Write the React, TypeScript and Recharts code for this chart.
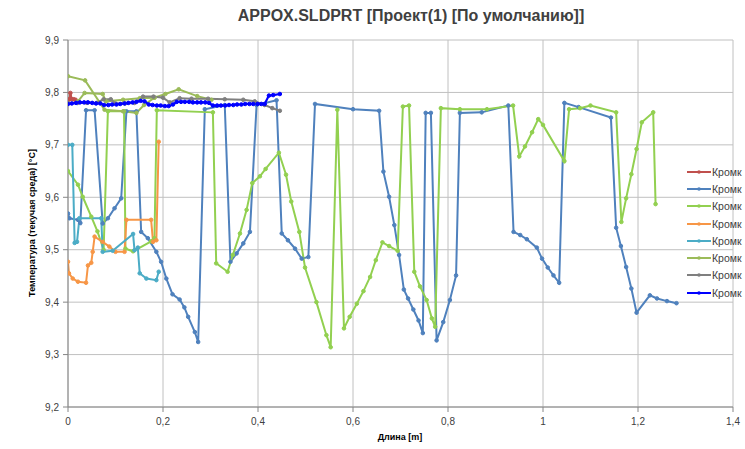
import React from 'react';
import { LineChart, Line, XAxis, YAxis, CartesianGrid } from 'recharts';

type P = [number, number];

const title = 'APPOX.SLDPRT [Проект(1) [По умолчанию]]';
const xAxisTitle = 'Длина [m]';
const yAxisTitle = 'Температура (текучая среда) [°C]';
const seriesNames = ['Кромк', 'Кромк', 'Кромк', 'Кромк', 'Кромк', 'Кромк', 'Кромк', 'Кромк'];
const seriesColors = ['#C0504D', '#4F81BD', '#92D050', '#F79646', '#4BACC6', '#9BBB59', '#7F7F7F', '#0000FF'];
const xTicks = [0, 0.2, 0.4, 0.6, 0.8, 1, 1.2, 1.4];
const yTicks = [9.2, 9.3, 9.4, 9.5, 9.6, 9.7, 9.8, 9.9];

const edge1: P[] = [[0, 9.786], [0.003, 9.787], [0.005, 9.799], [0.008, 9.787], [0.012, 9.787], [0.016, 9.786]];

const edge2: P[] = [
  [0, 9.569], [0.003, 9.56], [0.021, 9.557], [0.026, 9.551], [0.038, 9.766], [0.056, 9.766], [0.073, 9.55],
  [0.084, 9.56], [0.098, 9.579], [0.112, 9.598], [0.123, 9.764], [0.144, 9.764], [0.154, 9.534], [0.168, 9.522],
  [0.186, 9.496], [0.196, 9.477], [0.207, 9.445], [0.22, 9.415], [0.235, 9.405], [0.245, 9.39], [0.253, 9.372],
  [0.267, 9.343], [0.274, 9.324], [0.288, 9.768], [0.33, 9.776], [0.342, 9.477], [0.355, 9.493], [0.369, 9.512],
  [0.383, 9.534], [0.397, 9.776], [0.439, 9.785], [0.45, 9.531], [0.463, 9.518], [0.478, 9.502], [0.492, 9.483],
  [0.506, 9.486], [0.52, 9.778], [0.6, 9.768], [0.655, 9.765], [0.664, 9.649], [0.676, 9.601], [0.687, 9.547],
  [0.697, 9.49], [0.707, 9.424], [0.716, 9.407], [0.727, 9.386], [0.738, 9.365], [0.747, 9.341], [0.753, 9.761],
  [0.764, 9.761], [0.776, 9.327], [0.79, 9.362], [0.804, 9.404], [0.817, 9.451], [0.825, 9.761], [0.871, 9.762],
  [0.927, 9.775], [0.938, 9.534], [0.952, 9.528], [0.966, 9.52], [0.987, 9.504], [0.998, 9.483], [1.01, 9.466],
  [1.022, 9.451], [1.034, 9.437], [1.045, 9.78], [1.075, 9.772], [1.143, 9.752], [1.154, 9.542], [1.164, 9.507],
  [1.175, 9.467], [1.186, 9.426], [1.197, 9.38], [1.225, 9.413], [1.24, 9.407], [1.261, 9.402], [1.281, 9.398],
];

const edge3: P[] = [
  [0, 9.65], [0.021, 9.624], [0.031, 9.601], [0.049, 9.563], [0.062, 9.535], [0.075, 9.5], [0.084, 9.764],
  [0.118, 9.764], [0.121, 9.502], [0.137, 9.497], [0.175, 9.516], [0.182, 9.522], [0.187, 9.766], [0.305, 9.762],
  [0.312, 9.474], [0.336, 9.458], [0.347, 9.49], [0.362, 9.531], [0.376, 9.576], [0.388, 9.627], [0.404, 9.64],
  [0.416, 9.654], [0.444, 9.685], [0.459, 9.643], [0.47, 9.592], [0.487, 9.534], [0.499, 9.466], [0.523, 9.4],
  [0.544, 9.337], [0.553, 9.314], [0.567, 9.767], [0.581, 9.35], [0.593, 9.372], [0.608, 9.397], [0.622, 9.421],
  [0.636, 9.448], [0.648, 9.48], [0.662, 9.514], [0.676, 9.507], [0.694, 9.498], [0.705, 9.773], [0.718, 9.775],
  [0.729, 9.458], [0.741, 9.43], [0.755, 9.404], [0.766, 9.369], [0.773, 9.353], [0.785, 9.77], [0.825, 9.768],
  [0.882, 9.768], [0.937, 9.775], [0.95, 9.678], [0.962, 9.697], [0.977, 9.724], [0.99, 9.749], [1.0, 9.738],
  [1.045, 9.669], [1.055, 9.768], [1.078, 9.77], [1.1, 9.775], [1.154, 9.762], [1.165, 9.553], [1.175, 9.598],
  [1.186, 9.644], [1.197, 9.692], [1.208, 9.743], [1.232, 9.762], [1.237, 9.587],
];

const edge4: P[] = [
  [0, 9.477], [0.002, 9.455], [0.01, 9.445], [0.021, 9.439], [0.038, 9.437], [0.042, 9.47], [0.049, 9.475],
  [0.052, 9.496], [0.056, 9.525], [0.073, 9.515], [0.087, 9.506], [0.1, 9.496], [0.119, 9.496], [0.123, 9.557],
  [0.175, 9.557], [0.179, 9.515], [0.186, 9.518], [0.191, 9.706],
];

const edge5: P[] = [
  [0, 9.7], [0.009, 9.7], [0.014, 9.513], [0.019, 9.515], [0.024, 9.56], [0.07, 9.56], [0.073, 9.496],
  [0.094, 9.498], [0.137, 9.53], [0.14, 9.499], [0.147, 9.504], [0.151, 9.455], [0.165, 9.445], [0.186, 9.442],
  [0.191, 9.458],
];

const edge6a: P[] = [
  [0, 9.831], [0.036, 9.823], [0.077, 9.767], [0.116, 9.764], [0.144, 9.761], [0.16, 9.776], [0.182, 9.79],
  [0.205, 9.797], [0.233, 9.806], [0.272, 9.793], [0.302, 9.786],
];
const edge6b: P[] = [
  [0.021, 9.783], [0.035, 9.799], [0.073, 9.797], [0.08, 9.783], [0.116, 9.786], [0.151, 9.789], [0.182, 9.79],
];

const edge7: P[] = [
  [0, 9.78], [0.02, 9.78], [0.04, 9.78], [0.06, 9.78], [0.075, 9.787], [0.09, 9.787], [0.1, 9.779], [0.12, 9.779],
  [0.14, 9.78], [0.158, 9.792], [0.18, 9.792], [0.2, 9.79], [0.214, 9.781], [0.235, 9.789], [0.26, 9.788],
  [0.295, 9.788], [0.33, 9.787], [0.369, 9.786], [0.393, 9.783], [0.414, 9.776], [0.43, 9.77], [0.446, 9.765],
];

const edge8: P[] = [
  [0, 9.778], [0.008, 9.779], [0.017, 9.78], [0.025, 9.781], [0.034, 9.781], [0.042, 9.781], [0.051, 9.78],
  [0.059, 9.779], [0.068, 9.779], [0.076, 9.776], [0.085, 9.776], [0.093, 9.777], [0.102, 9.777], [0.11, 9.778],
  [0.119, 9.779], [0.127, 9.78], [0.136, 9.781], [0.144, 9.782], [0.153, 9.784], [0.161, 9.783], [0.17, 9.777],
  [0.178, 9.776], [0.187, 9.775], [0.195, 9.775], [0.204, 9.774], [0.212, 9.774], [0.221, 9.777], [0.229, 9.782],
  [0.238, 9.782], [0.246, 9.782], [0.255, 9.782], [0.263, 9.781], [0.272, 9.781], [0.28, 9.781], [0.289, 9.781],
  [0.297, 9.78], [0.305, 9.775], [0.314, 9.775], [0.322, 9.775], [0.331, 9.775], [0.339, 9.776], [0.348, 9.776],
  [0.356, 9.777], [0.365, 9.777], [0.373, 9.778], [0.382, 9.778], [0.39, 9.778], [0.399, 9.778], [0.407, 9.778],
  [0.414, 9.778], [0.423, 9.794], [0.432, 9.795], [0.446, 9.797],
];

const toRows = (pts: P[]) => pts.map(([x, y]) => ({ x, y }));

const series: { pts: P[]; color: string; width: number }[] = [
  { pts: edge1, color: seriesColors[0], width: 2 },
  { pts: edge2, color: seriesColors[1], width: 2 },
  { pts: edge3, color: seriesColors[2], width: 2 },
  { pts: edge4, color: seriesColors[3], width: 2 },
  { pts: edge5, color: seriesColors[4], width: 2 },
  { pts: edge6a, color: seriesColors[5], width: 2 },
  { pts: edge6b, color: seriesColors[5], width: 2 },
  { pts: edge7, color: seriesColors[6], width: 2 },
  { pts: edge8, color: seriesColors[7], width: 2.2 },
];

const fmt = (v: number) => (Math.round(v * 10) / 10).toString().replace('.', ',');

const FONT = '"Liberation Sans", Arial, sans-serif';

export default function App() {
  return (
    <div style={{ position: 'absolute', left: 0, top: 0, width: 745, height: 449, overflow: 'hidden', background: '#fff', fontFamily: FONT }}>
      <LineChart width={745} height={449} margin={{ top: 40, right: 12, left: 0, bottom: 0 }}>
        <CartesianGrid stroke="#C0C0C0" strokeWidth={1} horizontal vertical />
        <XAxis
          type="number"
          dataKey="x"
          domain={[0, 1.4]}
          ticks={xTicks}
          tickFormatter={fmt}
          height={42}
          stroke="#868686"
          tickSize={5}
          tickMargin={6}
          tick={{ fontSize: 10, fill: '#404040', fontFamily: FONT }}
          allowDataOverflow
        />
        <YAxis
          type="number"
          dataKey="y"
          domain={[9.2, 9.9]}
          ticks={yTicks}
          tickFormatter={fmt}
          width={68}
          stroke="#868686"
          tickSize={5}
          tickMargin={4}
          tick={{ fontSize: 10, fill: '#404040', fontFamily: FONT }}
          allowDataOverflow
        />
        {series.map((s, i) => (
          <Line
            key={i}
            data={toRows(s.pts)}
            dataKey="y"
            type="linear"
            stroke={s.color}
            strokeWidth={s.width}
            dot={{ r: 1.8, fill: s.color, stroke: s.color, strokeWidth: 1 }}
            activeDot={false}
            isAnimationActive={false}
          />
        ))}
      </LineChart>
      <div style={{ position: 'absolute', left: 0, width: 822, top: 7, textAlign: 'center', fontSize: 16, fontWeight: 'bold', color: '#404040' }}>
        {title}
      </div>
      <div style={{ position: 'absolute', left: 68, width: 664, top: 432, textAlign: 'center', fontSize: 9, fontWeight: 'bold', color: '#000' }}>
        {xAxisTitle}
      </div>
      <div
        style={{
          position: 'absolute', left: 32, top: 223, width: 200, marginLeft: -100, marginTop: -6, textAlign: 'center',
          fontSize: 9, fontWeight: 'bold', color: '#000', transform: 'rotate(-90deg)', whiteSpace: 'nowrap', lineHeight: '12px',
        }}
      >
        {yAxisTitle}
      </div>
      <div style={{ position: 'absolute', left: 686, top: 163, width: 59 }}>
        {seriesNames.map((n, i) => (
          <div key={i} style={{ height: 17.3, display: 'flex', alignItems: 'center', whiteSpace: 'nowrap' }}>
            <svg width={26} height={10} style={{ flex: '0 0 26px' }}>
              <line x1={1} y1={5} x2={25} y2={5} stroke={seriesColors[i]} strokeWidth={2} />
              <circle cx={13} cy={5} r={1.8} fill={seriesColors[i]} />
            </svg>
            <span style={{ fontSize: 10.5, color: '#404040' }}>{n}</span>
          </div>
        ))}
      </div>
    </div>
  );
}
